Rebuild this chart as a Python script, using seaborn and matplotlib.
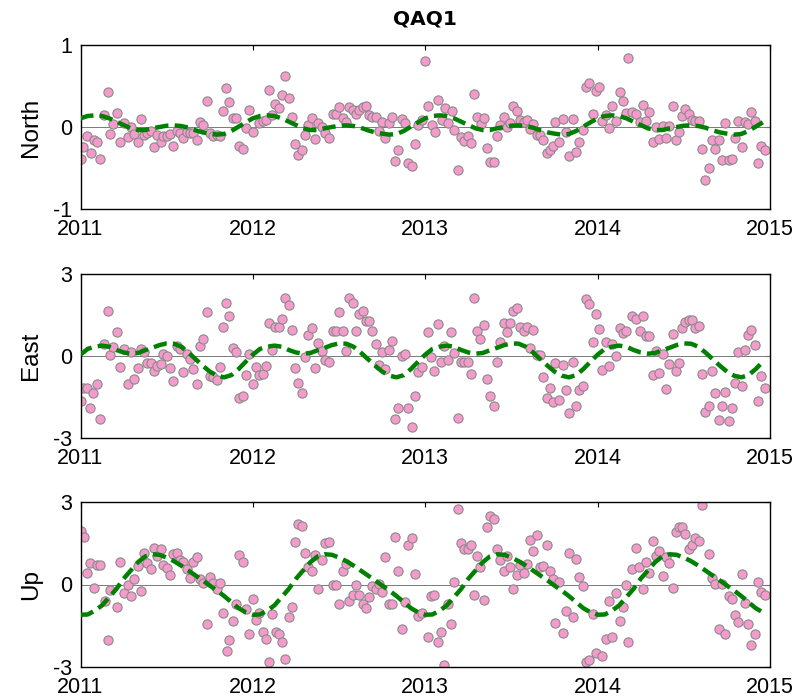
import numpy as np
import pandas as pd
import matplotlib
matplotlib.use("Agg")
import matplotlib.pyplot as plt
import seaborn as sns

# ---------------- data ----------------
station = "QAQ1"
components = ["North", "East", "Up"]
year_ticks = [2011, 2012, 2013, 2014, 2015]
y_limits = {"North": (-1, 1), "East": (-3, 3), "Up": (-3, 3)}
y_ticks = {"North": [-1, 0, 1], "East": [-3, 0, 3], "Up": [-3, 0, 3]}

north_t = [2011.000, 2011.016, 2011.040, 2011.059, 2011.078, 2011.098, 2011.113, 2011.138, 2011.158, 2011.171,
           2011.191, 2011.210, 2011.229, 2011.254, 2011.274, 2011.293, 2011.312, 2011.332, 2011.349, 2011.368,
           2011.388, 2011.407, 2011.426, 2011.446, 2011.465, 2011.481, 2011.500, 2011.519, 2011.539, 2011.558,
           2011.577, 2011.597, 2011.616, 2011.635, 2011.655, 2011.674, 2011.693, 2011.713, 2011.732, 2011.751,
           2011.771, 2011.790, 2011.809, 2011.829, 2011.844, 2011.864, 2011.883, 2011.902, 2011.922, 2011.941,
           2011.960, 2011.980, 2011.999, 2012.038, 2012.057, 2012.074, 2012.094, 2012.113, 2012.129, 2012.152,
           2012.169, 2012.188, 2012.208, 2012.227, 2012.245, 2012.264, 2012.285, 2012.303, 2012.322, 2012.341,
           2012.361, 2012.380, 2012.399, 2012.419, 2012.444, 2012.463, 2012.482, 2012.502, 2012.521, 2012.540,
           2012.560, 2012.579, 2012.597, 2012.618, 2012.637, 2012.655, 2012.674, 2012.693, 2012.713, 2012.732,
           2012.749, 2012.769, 2012.788, 2012.807, 2012.825, 2012.844, 2012.863, 2012.883, 2012.902, 2012.922,
           2012.941, 2012.960, 2012.979, 2012.999, 2013.018, 2013.038, 2013.057, 2013.076, 2013.096, 2013.115,
           2013.134, 2013.154, 2013.169, 2013.188, 2013.208, 2013.227, 2013.246, 2013.266, 2013.281, 2013.301,
           2013.324, 2013.339, 2013.359, 2013.378, 2013.397, 2013.417, 2013.436, 2013.455, 2013.475, 2013.494,
           2013.511, 2013.533, 2013.552, 2013.571, 2013.591, 2013.608, 2013.627, 2013.647, 2013.666, 2013.685,
           2013.705, 2013.724, 2013.739, 2013.753, 2013.778, 2013.798, 2013.817, 2013.836, 2013.856, 2013.875,
           2013.894, 2013.914, 2013.933, 2013.952, 2013.972, 2013.989, 2014.008, 2014.028, 2014.047, 2014.064,
           2014.084, 2014.109, 2014.128, 2014.148, 2014.167, 2014.179, 2014.202, 2014.223, 2014.246, 2014.262,
           2014.281, 2014.300, 2014.320, 2014.339, 2014.358, 2014.378, 2014.397, 2014.416, 2014.436, 2014.455,
           2014.474, 2014.490, 2014.509, 2014.529, 2014.548, 2014.567, 2014.587, 2014.606, 2014.625, 2014.645,
           2014.664, 2014.683, 2014.703, 2014.722, 2014.741, 2014.761, 2014.780, 2014.797, 2014.817, 2014.836,
           2014.855, 2014.875, 2014.892, 2014.911, 2014.931, 2014.950, 2014.970]
north_v = [-0.390, -0.244, -0.110, -0.321, -0.163, -0.187, -0.390, 0.146, 0.427, -0.085,
           0.033, 0.171, -0.187, 0.049, -0.122, 0.004, -0.085, -0.187, 0.102, -0.098,
           -0.069, -0.049, -0.240, -0.098, -0.187, -0.106, -0.106, -0.085, -0.228, -0.049,
           -0.069, -0.138, -0.057, -0.069, -0.069, -0.163, 0.065, 0.024, 0.317, -0.077,
           -0.110, -0.098, -0.110, 0.195, 0.480, 0.305, 0.106, 0.106, -0.228, -0.272,
           -0.016, 0.211, -0.057, 0.053, 0.073, 0.089, 0.455, 0.146, 0.276, 0.228,
           0.386, 0.626, 0.350, 0.118, -0.203, -0.337, -0.285, -0.093, 0.024, 0.106,
           -0.150, 0.049, 0.004, -0.077, -0.138, 0.154, 0.154, 0.240, 0.106, 0.057,
           0.240, 0.211, 0.154, 0.211, 0.240, 0.252, 0.146, 0.118, 0.118, -0.049,
           0.061, -0.138, 0.049, 0.118, -0.415, -0.285, 0.093, 0.049, -0.439, -0.472,
           -0.203, 0.024, 0.081, 0.809, 0.252, 0.020, -0.057, 0.333, 0.081, 0.228,
           0.049, 0.199, -0.033, -0.524, -0.122, -0.171, -0.106, -0.191, 0.398, 0.118,
           0.037, 0.106, -0.256, -0.431, -0.423, -0.114, 0.020, 0.118, 0.004, 0.045,
           0.252, 0.191, 0.089, 0.061, 0.089, -0.024, 0.037, -0.098, -0.098, -0.163,
           -0.313, -0.285, -0.228, 0.065, -0.179, 0.102, -0.057, -0.350, 0.102, -0.309,
           -0.179, -0.037, 0.492, 0.533, 0.154, 0.439, 0.492, 0.073, 0.142, -0.016,
           0.252, 0.073, 0.427, 0.317, 0.171, 0.837, 0.179, 0.154, 0.061, 0.264,
           0.073, 0.179, -0.187, 0.000, -0.150, 0.012, -0.138, 0.012, 0.252, -0.163,
           -0.057, 0.130, 0.224, 0.154, 0.089, 0.073, 0.073, -0.268, -0.642, -0.500,
           -0.163, -0.268, -0.163, -0.402, 0.049, -0.402, -0.390, -0.138, 0.073, -0.244,
           0.061, 0.037, 0.183, 0.073, -0.443, -0.228, -0.285]

east_t = [2011.000, 2011.016, 2011.036, 2011.055, 2011.074, 2011.094, 2011.113, 2011.138, 2011.158, 2011.171,
          2011.191, 2011.210, 2011.229, 2011.254, 2011.274, 2011.293, 2011.312, 2011.332, 2011.349, 2011.368,
          2011.388, 2011.407, 2011.426, 2011.446, 2011.465, 2011.481, 2011.500, 2011.519, 2011.539, 2011.558,
          2011.577, 2011.597, 2011.616, 2011.635, 2011.655, 2011.674, 2011.693, 2011.713, 2011.732, 2011.751,
          2011.771, 2011.790, 2011.809, 2011.829, 2011.844, 2011.864, 2011.883, 2011.902, 2011.922, 2011.941,
          2011.960, 2011.980, 2011.999, 2012.018, 2012.038, 2012.057, 2012.074, 2012.094, 2012.113, 2012.129,
          2012.152, 2012.169, 2012.188, 2012.208, 2012.227, 2012.245, 2012.264, 2012.285, 2012.303, 2012.322,
          2012.341, 2012.361, 2012.380, 2012.399, 2012.419, 2012.444, 2012.463, 2012.482, 2012.502, 2012.521,
          2012.540, 2012.560, 2012.579, 2012.597, 2012.618, 2012.637, 2012.655, 2012.674, 2012.693, 2012.713,
          2012.732, 2012.749, 2012.769, 2012.788, 2012.807, 2012.825, 2012.844, 2012.863, 2012.883, 2012.902,
          2012.922, 2012.941, 2012.960, 2012.979, 2013.014, 2013.034, 2013.053, 2013.072, 2013.092, 2013.111,
          2013.130, 2013.150, 2013.169, 2013.188, 2013.208, 2013.227, 2013.246, 2013.266, 2013.281, 2013.301,
          2013.320, 2013.339, 2013.359, 2013.378, 2013.397, 2013.417, 2013.436, 2013.455, 2013.475, 2013.494,
          2013.511, 2013.533, 2013.552, 2013.571, 2013.591, 2013.608, 2013.627, 2013.647, 2013.666, 2013.685,
          2013.705, 2013.724, 2013.739, 2013.753, 2013.778, 2013.798, 2013.817, 2013.836, 2013.856, 2013.875,
          2013.894, 2013.914, 2013.933, 2013.952, 2013.972, 2013.989, 2014.008, 2014.028, 2014.047, 2014.064,
          2014.084, 2014.109, 2014.128, 2014.148, 2014.167, 2014.198, 2014.223, 2014.246, 2014.262, 2014.281,
          2014.300, 2014.320, 2014.339, 2014.358, 2014.378, 2014.397, 2014.416, 2014.436, 2014.455, 2014.474,
          2014.490, 2014.509, 2014.529, 2014.548, 2014.567, 2014.587, 2014.606, 2014.625, 2014.645, 2014.664,
          2014.683, 2014.703, 2014.722, 2014.741, 2014.761, 2014.780, 2014.797, 2014.817, 2014.836, 2014.855,
          2014.875, 2014.892, 2014.911, 2014.931, 2014.950, 2014.970]
east_v = [-1.646, -1.183, -1.159, -1.890, -1.341, -1.037, -2.293, 0.439, 1.634, 0.037,
          0.317, 0.878, -0.415, 0.244, -1.037, 0.134, -0.829, -0.451, 0.244, 0.134,
          -0.244, -0.244, -0.537, -0.354, -0.305, 0.061, 0.012, -0.451, -0.927, 0.354,
          0.256, -0.573, 0.061, -0.110, -0.488, -1.037, 0.354, 0.634, 1.598, -0.744,
          -0.768, -0.866, -0.402, 1.061, 1.951, 1.476, 0.280, 0.134, -1.524, -1.451,
          -0.695, 0.073, -1.037, -0.402, -0.683, -0.659, -0.366, 1.195, 0.232, 1.073,
          1.073, 1.354, 2.110, 1.866, 0.951, -0.451, -1.000, -1.366, -0.024, 0.756,
          1.037, -0.451, 0.463, 0.183, -0.146, -0.207, 0.915, 0.915, 1.598, 0.915,
          0.183, 2.110, 1.951, 0.915, 1.549, 1.646, 1.280, 1.280, 0.915, 0.439,
          -0.329, 0.146, -0.488, 0.220, 0.549, -2.293, -1.890, 0.000, 0.073, -1.890,
          -2.585, -1.451, -0.573, -0.402, 0.878, -0.049, -0.537, 1.159, -0.207, 0.354,
          -0.146, 0.878, 0.110, -2.256, -0.207, -0.207, -0.207, -0.646, 2.110, 0.915,
          0.634, 1.122, -0.854, -1.451, -1.817, -0.207, 0.512, 1.195, 0.878, 1.195,
          1.646, 1.756, 1.073, 0.915, 1.073, 0.305, 0.963, 0.037, 0.037, -0.768,
          -1.524, -1.183, -1.671, -0.268, -1.610, -0.329, -1.256, -2.098, -0.207, -1.817,
          -1.256, -1.085, 2.085, 1.902, 0.512, 1.549, 0.988, -0.500, 0.512, -0.354,
          0.439, 0.000, 1.037, 0.829, 0.915, 1.476, 1.354, 0.915, 1.476, 0.720,
          0.720, -0.695, 0.183, -0.610, 0.073, -1.220, -0.293, 0.793, -0.537, -0.244,
          1.037, 1.232, 1.317, 1.317, 1.037, 1.110, -0.646, -2.049, -1.817, -0.537,
          -1.366, -2.329, -1.817, -1.329, -2.378, -1.890, -0.976, 0.134, -1.085, 0.232,
          0.756, 0.951, 0.390, -1.646, -0.732, -1.183]

up_t = [2011.000, 2011.020, 2011.040, 2011.055, 2011.078, 2011.098, 2011.113, 2011.142, 2011.158, 2011.171,
        2011.210, 2011.229, 2011.254, 2011.274, 2011.293, 2011.312, 2011.332, 2011.351, 2011.368, 2011.388,
        2011.407, 2011.426, 2011.446, 2011.465, 2011.481, 2011.500, 2011.519, 2011.539, 2011.558, 2011.577,
        2011.597, 2011.616, 2011.635, 2011.655, 2011.674, 2011.693, 2011.713, 2011.732, 2011.751, 2011.771,
        2011.790, 2011.809, 2011.829, 2011.848, 2011.864, 2011.883, 2011.902, 2011.922, 2011.941, 2011.960,
        2011.980, 2011.999, 2012.018, 2012.038, 2012.057, 2012.076, 2012.096, 2012.113, 2012.132, 2012.152,
        2012.169, 2012.188, 2012.208, 2012.227, 2012.245, 2012.264, 2012.285, 2012.303, 2012.322, 2012.341,
        2012.361, 2012.380, 2012.399, 2012.419, 2012.444, 2012.463, 2012.482, 2012.502, 2012.521, 2012.540,
        2012.560, 2012.579, 2012.597, 2012.618, 2012.637, 2012.655, 2012.674, 2012.693, 2012.713, 2012.732,
        2012.749, 2012.769, 2012.788, 2012.807, 2012.825, 2012.844, 2012.863, 2012.883, 2012.902, 2012.922,
        2012.941, 2012.960, 2012.979, 2013.014, 2013.034, 2013.053, 2013.072, 2013.092, 2013.111, 2013.130,
        2013.150, 2013.169, 2013.188, 2013.208, 2013.227, 2013.246, 2013.266, 2013.281, 2013.301, 2013.320,
        2013.339, 2013.359, 2013.378, 2013.397, 2013.417, 2013.436, 2013.455, 2013.475, 2013.494, 2013.511,
        2013.533, 2013.552, 2013.571, 2013.591, 2013.608, 2013.627, 2013.647, 2013.666, 2013.685, 2013.705,
        2013.724, 2013.739, 2013.753, 2013.778, 2013.798, 2013.817, 2013.836, 2013.856, 2013.875, 2013.894,
        2013.914, 2013.933, 2013.952, 2013.972, 2013.989, 2014.028, 2014.047, 2014.064, 2014.084, 2014.109,
        2014.128, 2014.148, 2014.167, 2014.179, 2014.198, 2014.223, 2014.242, 2014.262, 2014.281, 2014.300,
        2014.320, 2014.339, 2014.358, 2014.378, 2014.397, 2014.416, 2014.436, 2014.455, 2014.474, 2014.490,
        2014.509, 2014.529, 2014.548, 2014.567, 2014.587, 2014.606, 2014.645, 2014.664, 2014.683, 2014.703,
        2014.722, 2014.741, 2014.761, 2014.780, 2014.797, 2014.817, 2014.836, 2014.855, 2014.875, 2014.892,
        2014.911, 2014.931, 2014.950, 2014.970]
up_v = [1.952, 1.745, 0.436, 0.788, -0.121, 0.715, 0.715, -0.618, -2.036, -0.182,
        -0.836, 0.836, -0.327, 0.000, -0.400, 0.194, 0.679, -0.242, 1.152, 0.788,
        0.558, 1.345, 1.030, 1.309, 0.715, 0.594, 0.352, 1.103, 1.152, 0.909,
        0.836, 0.558, 0.230, 0.836, 0.994, 0.194, 0.061, -1.442, 0.279, 0.061,
        -0.170, 0.061, -1.042, -2.436, -2.000, -1.321, -0.691, 1.067, 0.836, -0.885,
        -1.794, -0.521, -1.297, -1.042, -1.721, -1.964, -2.836, -1.079, -1.721, -1.794,
        -2.109, -2.715, -1.164, -0.800, 1.552, 2.194, 2.145, 1.152, 0.630, 0.473,
        1.079, -0.170, 0.873, 1.503, 1.552, -0.012, -0.012, -0.727, 0.473, 0.752,
        -0.606, -0.364, -0.012, -0.364, -0.727, -0.848, -0.448, -0.048, -0.170, 0.036,
        -0.279, 0.994, -0.691, -0.727, 1.745, 0.509, -1.636, -0.642, 1.430, 1.673,
        0.388, -1.139, -1.042, -1.915, -0.400, -0.364, -2.073, -1.721, -2.921, -0.727,
        -1.442, 0.073, 2.739, 1.503, 1.309, 1.309, 1.430, -0.364, 1.030, 0.630,
        -0.570, 2.073, 2.497, 2.388, 1.309, 0.873, 0.473, 1.030, 0.630, -0.170,
        0.352, 0.715, 0.436, 0.752, 1.624, 1.236, 1.794, 0.630, 0.667, 1.430,
        0.509, 0.194, -1.394, 0.109, -1.758, -0.958, 1.152, -1.164, 0.921, 0.279,
        -0.048, -2.824, -2.752, -1.079, -2.473, -2.606, -1.964, -0.606, -1.915, -0.327,
        -1.321, -0.800, 0.000, -2.109, 0.558, 1.345, 0.630, -0.170, 0.836, 0.436,
        1.588, 1.030, 1.236, 0.315, 0.994, 0.788, -0.121, 1.915, 2.109, 2.109,
        1.830, 1.273, 1.430, 1.709, 1.588, 2.909, 1.115, 0.230, 0.036, -1.600,
        0.036, -1.794, -0.400, -0.521, -1.115, -1.358, 0.388, -0.679, -1.442, -2.194,
        -1.794, 0.073, -0.279, -0.364]

north_profile = [0.106, 0.134, 0.142, 0.134, 0.106, 0.065, 0.024, -0.016, -0.037, -0.037, -0.016, 0.000,
                 0.016, 0.020, 0.012, -0.008, -0.040, -0.065, -0.081, -0.093, -0.085, -0.049, 0.004, 0.057]
east_profile = [0.05, 0.26, 0.34, 0.38, 0.34, 0.22, 0.13, 0.085, 0.11, 0.21, 0.30, 0.40,
                0.46, 0.45, 0.34, 0.13, -0.11, -0.35, -0.57, -0.72, -0.78, -0.70, -0.48, -0.21]
up_profile = [-1.10, -1.09, -0.95, -0.76, -0.46, -0.16, 0.21, 0.51, 0.81, 1.02, 1.10, 1.08,
              0.98, 0.85, 0.69, 0.51, 0.33, 0.15, -0.04, -0.22, -0.42, -0.64, -0.86, -1.01]
profile_years = [2011, 2012, 2013, 2014]

# ---------------- styling ----------------
sns.set_theme(style="white")
plt.rcParams["font.family"] = ["Liberation Sans", "DejaVu Sans"]
plt.rcParams["text.color"] = "black"
plt.rcParams["axes.labelcolor"] = "black"
plt.rcParams["xtick.color"] = "black"
plt.rcParams["ytick.color"] = "black"

pink = "#F59BCB"
edge = "#8A8A8A"
green = "#008000"

scatter_data = {"North": (north_t, north_v), "East": (east_t, east_v), "Up": (up_t, up_v)}
profiles = {"North": north_profile, "East": east_profile, "Up": up_profile}

fig = plt.figure(figsize=(8.11, 6.98), dpi=100)
W, H = 811.0, 698.0
boxes = {"North": (45, 209), "East": (274, 438), "Up": (502, 667)}
left_px, right_px = 80.5, 770.0

axes = []
for comp in components:
    top, bot = boxes[comp]
    ax = fig.add_axes([left_px / W, 1 - bot / H, (right_px - left_px) / W, (bot - top) / H])
    axes.append(ax)
    t, v = scatter_data[comp]
    df = pd.DataFrame({"year": t, "value": v})
    prof = profiles[comp]
    line_t, line_v = [], []
    for yr in profile_years:
        for k, val in enumerate(prof):
            line_t.append(yr + k / len(prof))
            line_v.append(val)
    dl = pd.DataFrame({"year": line_t, "value": line_v})

    ax.axhline(0, color="#7a7a7a", lw=0.7, zorder=1)
    sns.scatterplot(data=df, x="year", y="value", ax=ax, s=44, color=pink,
                    edgecolor=edge, linewidth=0.8, zorder=2, legend=False)
    sns.lineplot(data=dl, x="year", y="value", ax=ax, color=green, lw=3.2,
                 linestyle=(0, (3.0, 1.4)), estimator=None, sort=False, zorder=3)

    ax.set_xlim(2011, 2015)
    ax.set_ylim(*y_limits[comp])
    ax.set_xticks(year_ticks)
    ax.set_xticklabels([str(y) for y in year_ticks])
    ax.set_yticks(y_ticks[comp])
    ax.set_yticklabels([str(y) for y in y_ticks[comp]])
    ax.tick_params(direction="in", top=True, right=True, length=3.5, width=0.8,
                   labelsize=15.5, colors="black")
    ax.tick_params(axis="x", pad=7)
    ax.tick_params(axis="y", pad=6)
    for s in ax.spines.values():
        s.set_visible(True)
        s.set_color("black")
        s.set_linewidth(1.0)
    ax.set_xlabel("")
    ax.set_ylabel(comp, fontsize=17.5, labelpad=8, color="black")
    ax.grid(False)

axes[0].set_title(station, fontsize=14.5, fontweight="bold", color="black",
                  family=["Liberation Sans Narrow", "DejaVu Sans"], pad=15)

fig.savefig("out.png", dpi=100)
